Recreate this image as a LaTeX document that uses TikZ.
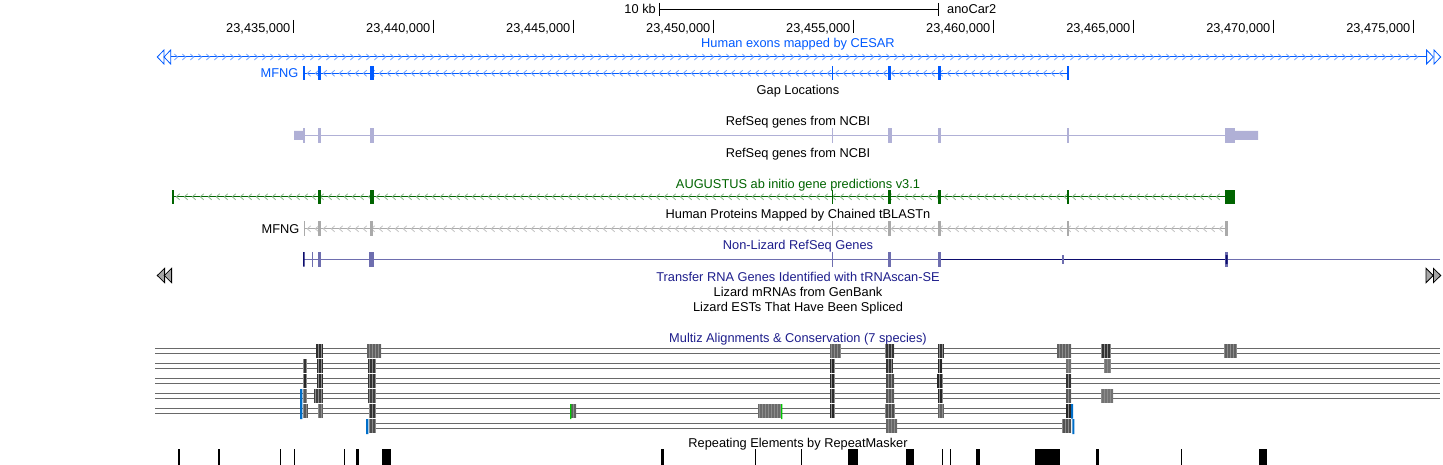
\documentclass[tikz,border=0pt]{standalone}
\usepackage{fontspec}
\setmainfont{Liberation Sans}
\usepackage{tikz}
\usetikzlibrary{patterns}
\definecolor{cesarblue}{RGB}{0,90,255}
\definecolor{augugreen}{RGB}{0,100,0}
\definecolor{refseqlav}{RGB}{176,176,214}
\definecolor{protgray}{RGB}{170,170,170}
\definecolor{nlpurple}{RGB}{110,110,175}
\definecolor{nlnavy}{RGB}{12,12,110}
\definecolor{titlenavy}{RGB}{30,30,140}
\definecolor{mzgray}{RGB}{105,105,105}
\definecolor{mzblue}{RGB}{0,110,200}
\definecolor{mzgreen}{RGB}{0,200,0}
\tikzset{
	every node/.style={
		inner sep=0pt,
		font=\fontsize{12.8}{15}\selectfont},
	tracktitle/.style={anchor=base},
	genename/.style={anchor=base east},
	geneline/.style={line width=1pt},
	chev/.style={line width=0.8pt},
	endtri/.style={line width=0.8pt},
	mzline/.style={mzgray, line width=1pt},
	mzstripe/.style={pattern=vertical lines, pattern color=black!45}
}

\begin{document}
\begin{tikzpicture}[x=1pt, y=-1pt]
	\useasboundingbox (0,0) rectangle (1443,465);
	\fill[white] (0,0) rectangle (1443,465);

	% ruler and scale bar
	\draw[line width=1pt] (659.3,3) -- (659.3,16) (659.3,9.5) -- (938.3,9.5) (938.3,3) -- (938.3,16);
	\node[anchor=base east] (kb) at (656,14) {10 kb};
	\node[anchor=base west] (asm) at (947,14) {anoCar2};
	\foreach \tl [count=\i] in {{23,435,000},{23,440,000},{23,445,000},{23,450,000},{23,455,000},{23,460,000},{23,465,000},{23,470,000},{23,475,000}} {
		\draw[line width=1pt] (153.3+140*\i,20) -- ++(0,13);
		\node[anchor=base east] (tick\i) at (150.5+140*\i,32.3) {\tl};
	}

	% CESAR
	\node[tracktitle, text=cesarblue] (cesarT) at (798,47.7) {Human exons mapped by CESAR};
	\draw[cesarblue, geneline] (171,57) -- (1427,57);
	\foreach \cx in {176,184,...,1420}
		\draw[chev, cesarblue!55] (\cx-1.7,54) -- (\cx+1.7,57) -- (\cx-1.7,60);
	\foreach \tx in {157.3,164}
		\draw[endtri, cesarblue, fill=white] (\tx,57) -- (\tx+6.7,50) -- (\tx+6.7,64) -- cycle;
	\foreach \tx in {1433.3,1440.7}
		\draw[endtri, cesarblue, fill=white] (\tx,57) -- (\tx-6.7,50) -- (\tx-6.7,64) -- cycle;
	\node[genename, text=cesarblue] (cesarN) at (298.5,77.7) {MFNG};
	\draw[cesarblue, geneline] (304,73.3) -- (1068,73.3);
	\foreach \cx in {309,317,...,1064}
		\draw[chev, cesarblue!55] (\cx+1.7,70.3) -- (\cx-1.7,73.3) -- (\cx+1.7,76.3);
	\foreach \a/\b in {303/305,318/321,369.5/373.5,831.5/833,887.5/891,938/941,1067.3/1068.7}
		\fill[cesarblue] (\a,66.5) rectangle (\b,80.3);

	\node[tracktitle] (gapT) at (798,94.7) {Gap Locations};

	% RefSeq
	\node[tracktitle] (refseqT) at (798,126) {RefSeq genes from NCBI};
	\draw[refseqlav, geneline] (294,135.5) -- (1258,135.5);
	\fill[refseqlav] (294,131) rectangle (303,140) (1235,131) rectangle (1258,140);
	\foreach \a/\b in {302.7/305,318/321,369.5/374,831.5/833,888/891.5,938/941,1067.3/1068.7,1225/1235}
		\fill[refseqlav] (\a,128.2) rectangle (\b,142.8);
	\node[tracktitle] (refseqB) at (798,157.3) {RefSeq genes from NCBI};

	% AUGUSTUS
	\node[tracktitle, text=augugreen] (augT) at (798,188.3) {AUGUSTUS ab initio gene predictions v3.1};
	\draw[augugreen, geneline] (172,196.8) -- (1235,196.8);
	\foreach \cx in {178,186,...,1222}
		\draw[chev, augugreen!45] (\cx+1.7,193.8) -- (\cx-1.7,196.8) -- (\cx+1.7,199.8);
	\foreach \a/\b in {171.5/173.5,318/321,369.5/374,831.5/833,887.5/891,938/941,1067.3/1068.7,1225/1235}
		\fill[augugreen] (\a,189.7) rectangle (\b,204.3);

	% tBLASTn
	\node[tracktitle] (protT) at (798,218.7) {Human Proteins Mapped by Chained tBLASTn};
	\node[genename] (protN) at (299.5,233.3) {MFNG};
	\draw[protgray, geneline] (304,228.8) -- (1227,228.8);
	\foreach \cx in {309,317,...,1222}
		\draw[chev, protgray!70] (\cx+1.7,225.8) -- (\cx-1.7,228.8) -- (\cx+1.7,231.8);
	\foreach \a/\b in {303.6/304.6,318/321,370/373,831.5/833,888/890.7,938/940.7,1067.3/1068.7,1225/1228}
		\fill[protgray] (\a,221.3) rectangle (\b,236.3);

	% Non-Lizard RefSeq
	\node[tracktitle, text=titlenavy] (nlT) at (798,250) {Non-Lizard RefSeq Genes};
	\draw[nlpurple, geneline] (304,259.3) -- (939,259.3) (1226,259.3) -- (1440,259.3);
	\draw[nlnavy, geneline] (939,259.3) -- (1226,259.3);
	\foreach \a/\b in {312/313,317.7/321,369/374,831.5/833,887.5/891,938/941,1225/1228}
		\fill[nlpurple] (\a,252) rectangle (\b,266.7);
	\fill[nlpurple] (1062.3,255) rectangle (1064.3,264);
	\fill[nlnavy] (303,252) rectangle (304.5,266.7) (1225.6,255) rectangle (1227.6,264);

	% tRNA
	\foreach \tx in {157.3,164.3}
		\draw[endtri, fill=black!35] (\tx,275.5) -- (\tx+7.3,268.3) -- (\tx+7.3,282.7) -- cycle;
	\foreach \tx in {1433.3,1440.7}
		\draw[endtri, fill=black!35] (\tx,275.5) -- (\tx-7.3,268.3) -- (\tx-7.3,282.7) -- cycle;
	\node[tracktitle, text=titlenavy] (trnaT) at (798,281) {Transfer RNA Genes Identified with tRNAscan-SE};
	\node[tracktitle] (mrnaT) at (798,296) {Lizard mRNAs from GenBank};
	\node[tracktitle] (estT) at (798,311) {Lizard ESTs That Have Been Spliced};

	% Multiz
	\node[tracktitle, text=titlenavy] (mzT) at (798,342.3) {Multiz Alignments \& Conservation (7 species)};
	\foreach \r/\xa/\xb in {0/155/1440,1/155/1440,2/155/1440,3/155/1440,4/155/1066,5/376/1062}
		\draw[mzline] (\xa,348.3+15*\r) -- (\xb,348.3+15*\r) (\xa,353.3+15*\r) -- (\xb,353.3+15*\r);
	\foreach \r/\a/\b/\s in {
		0/316/323/82,0/367/381/62,0/830/841/62,0/885/894/80,0/938/944/80,0/1057/1071/62,0/1101/1111/80,0/1224/1237/62,
		1/303/307/80,1/317/323/82,1/368/376/80,1/830/835/85,1/886/892.5/80,1/938/942/85,1/1066/1071/55,1/1104/1111/55,
		2/303/307/85,2/317/323/82,2/368/376/80,2/830/835/85,2/886/894/70,2/937/943/85,2/1066/1071/80,
		3/303/307/65,3/314/323/75,3/368/376/75,3/830/835/82,3/886/894/65,3/938/943/85,3/1066/1071/65,3/1101/1113/55,
		4/303/308/65,4/318/323/62,4/369/376/80,4/570.7/576/62,4/758/782/58,4/830/835/85,4/885/895/70,4/938/944/62,4/1066/1071/85,
		5/369/376/70,5/886/897/60,5/1062/1071/68} {
		\fill[black!\s] (\a,344+15*\r) rectangle (\b,357.7+15*\r);
		\fill[mzstripe] (\a,344+15*\r) rectangle (\b,357.7+15*\r);
	}
	\fill[mzblue] (300,389) rectangle (302.3,419) (366,419) rectangle (368.3,434)
		(1071,404) rectangle (1073,418.5) (1072.3,419) rectangle (1074.3,434);
	\fill[mzgreen] (570,404) rectangle (571.3,419) (781,404) rectangle (782.3,419);

	% RepeatMasker
	\node[tracktitle] (rmskT) at (798,447.3) {Repeating Elements by RepeatMasker};
	\foreach \a/\b in {178/180,217.5/220,279.8/281,293.8/295,343.5/345,356/359,382/391,660.5/664,755/756,801/802,
		848/858,905.5/913.5,941.5/942.5,949.5/950.5,976/980,1035/1060,1096/1099,1181/1182,1259/1267}
		\fill (\a,449) rectangle (\b,465);
\end{tikzpicture}
\end{document}
